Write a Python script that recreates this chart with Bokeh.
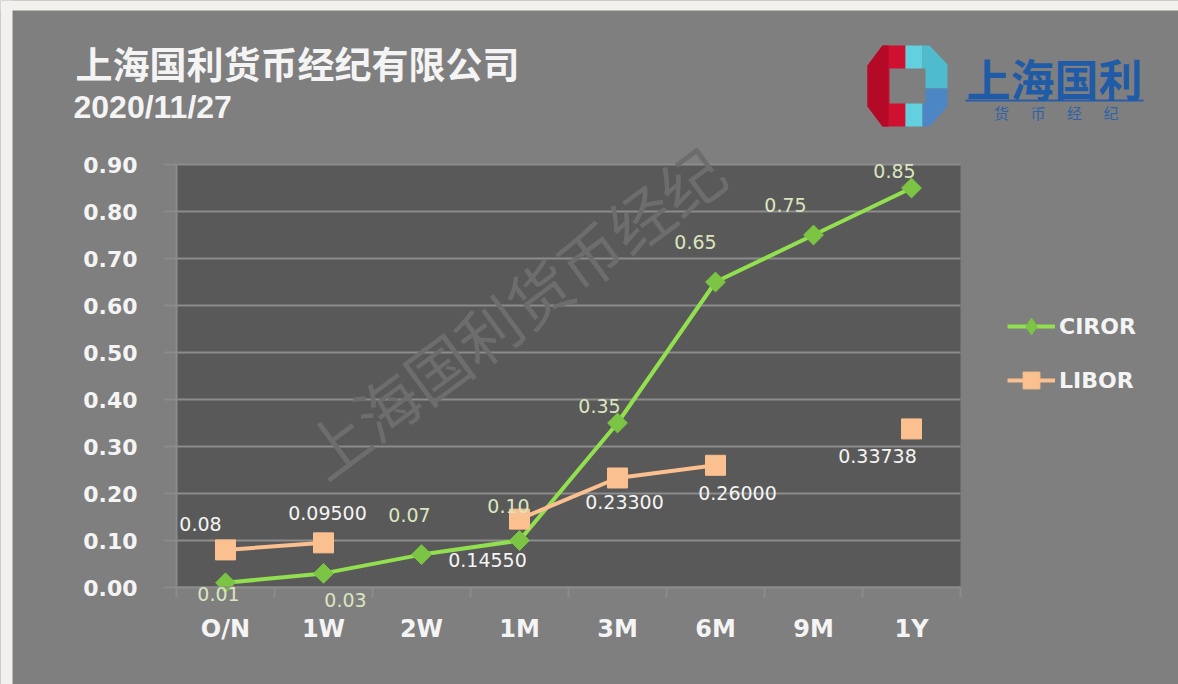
import numpy as np
from bokeh.plotting import figure
from bokeh.models import (Range1d, FixedTicker, NumeralTickFormatter, ColumnDataSource,
                          LabelSet, Label, Legend, LegendItem, BoxAnnotation, PolyAnnotation, Grid)
from bokeh.core.properties import value
from bokeh.embed import file_html
from bokeh.resources import INLINE

# ---------------- data ----------------
categories = ["O/N", "1W", "2W", "1M", "3M", "6M", "9M", "1Y"]
ciror = [0.01, 0.03, 0.07, 0.10, 0.35, 0.65, 0.75, 0.85]
libor = [0.08, 0.095, np.nan, 0.1455, 0.233, 0.26, np.nan, 0.33738]
ciror_labels = ["0.01", "0.03", "0.07", "0.10", "0.35", "0.65", "0.75", "0.85"]
libor_labels = ["0.08", "0.09500", "", "0.14550", "0.23300", "0.26000", "", "0.33738"]
y_ticks = [0.0, 0.1, 0.2, 0.3, 0.4, 0.5, 0.6, 0.7, 0.8, 0.9]
series_names = ["CIROR", "LIBOR"]
title_text = "上海国利货币经纪有限公司"
date_text = "2020/11/27"
watermark_text = "上海国利货币经纪"
logo_text = "上海国利"
logo_sub = "货币经纪"

# ---------------- label placement (style) ----------------
ciror_dx = [-7, 22, -12, -11, -18, -20, -28, -17]
ciror_dy = [-11, -27, 40, 35, 17, 40, 30, 17]
libor_dx = [-25, 4, 0, -32, 7, 22, 0, -34]
libor_dy = [26, 30, 0, -41, -24, -28, 0, -27]

GREEN_LINE = "#92e04f"
GREEN_MARK = "#7cc444"
PEACH = "#fac090"
TXT = "#f4f4f4"
GRID = "#8c8c8c"
PANEL = "#7f7f7f"
PLOT_BG = "#595959"
PAGE = "#f2f1ed"

W, H = 1178, 684
n = len(categories)
xpos = [i + 0.5 for i in range(n)]
y_top = y_ticks[-1]

# plot-area geometry on the page (pixels): x 176..960, y 164..587
PL, PR, PT, PB = 176, 960, 164, 587
ppx = (PR - PL) / n          # pixels per category
ppy = (PB - PT) / y_top      # pixels per unit of rate
x_range = Range1d(-PL / ppx, n + (W - PR) / ppx)
y_range = Range1d(-(H - PB) / ppy, y_top + PT / ppy)

def sx(x):   # page x -> screen units from frame left
    return x
def sy(y):   # page y -> screen units from frame bottom
    return H - y

p = figure(width=W, height=H, x_range=x_range, y_range=y_range,
           output_backend="svg", toolbar_location=None, min_border=0)
p.background_fill_color = PANEL
p.border_fill_color = PANEL
p.outline_line_color = None

# page edge strips and dark plot area
p.add_layout(BoxAnnotation(left=0, right=12, top=H, bottom=0, left_units="screen",
                           right_units="screen", top_units="screen", bottom_units="screen",
                           fill_color=PAGE, fill_alpha=1, line_color=None, level="image"))
p.add_layout(BoxAnnotation(left=0, right=W, top=H, bottom=H - 10, left_units="screen",
                           right_units="screen", top_units="screen", bottom_units="screen",
                           fill_color=PAGE, fill_alpha=1, line_color=None, level="image"))
p.add_layout(BoxAnnotation(left=0, right=n, bottom=0, top=y_top, fill_color=PLOT_BG, fill_alpha=1,
                           line_color=None, level="image"))

# grid
p.xgrid.visible = False
p.ygrid.grid_line_color = GRID
p.ygrid.grid_line_width = 2
p.ygrid.ticker = FixedTicker(ticks=y_ticks)
p.ygrid.bounds = (0, y_top)
if "cross_bounds" in Grid.properties():
    p.ygrid.cross_bounds = (0, n)

# y axis, drawn at x = 0
p.yaxis.fixed_location = 0
p.yaxis.bounds = (0, y_top)
p.yaxis.ticker = FixedTicker(ticks=y_ticks, minor_ticks=[])
p.yaxis.formatter = NumeralTickFormatter(format="0.00")
p.yaxis.major_label_text_font = "DejaVu Sans"
p.yaxis.major_label_text_font_size = "22px"
p.yaxis.major_label_text_font_style = "bold"
p.yaxis.major_label_text_color = TXT
p.yaxis.major_tick_out = 12
p.yaxis.major_tick_in = 0
p.yaxis.major_tick_line_color = GRID
p.yaxis.major_tick_line_width = 2
p.yaxis.minor_tick_line_color = None
p.yaxis.axis_line_color = GRID
p.yaxis.axis_line_width = 2
p.yaxis.major_label_standoff = 27

# x axis, drawn at y = 0
p.xaxis.fixed_location = 0
p.xaxis.bounds = (0, n)
p.xaxis.ticker = FixedTicker(ticks=xpos, minor_ticks=list(range(n + 1)))
p.xaxis.major_label_overrides = {xv: c for xv, c in zip(xpos, categories)}
p.xaxis.major_label_text_font = "DejaVu Sans"
p.xaxis.major_label_text_font_size = "24px"
p.xaxis.major_label_text_font_style = "bold"
p.xaxis.major_label_text_color = TXT
p.xaxis.major_tick_line_color = None
p.xaxis.major_tick_out = 0
p.xaxis.major_tick_in = 0
p.xaxis.minor_tick_out = 10
p.xaxis.minor_tick_in = 0
p.xaxis.minor_tick_line_color = GRID
p.xaxis.minor_tick_line_width = 2
p.xaxis.axis_line_color = GRID
p.xaxis.axis_line_width = 2
p.xaxis.major_label_standoff = 17

# watermark
p.add_layout(Label(x=sx(512), y=sy(310), x_units="screen", y_units="screen",
                   text=watermark_text, angle=0.637, text_align="center", text_baseline="middle",
                   text_font="Noto Sans CJK SC", text_font_size="63px", text_color="#6d6d6d",
                   level="underlay"))

# series
src_c = ColumnDataSource(dict(x=xpos, y=ciror))
src_l = ColumnDataSource(dict(x=xpos, y=libor))
lc = p.line("x", "y", source=src_c, line_color=GREEN_LINE, line_width=4)
# diamond glyph under the rotated squares; used as the legend swatch
mc_leg = p.scatter("x", "y", source=src_c, marker="diamond", size=17,
                   fill_color=GREEN_MARK, line_color=GREEN_MARK)
mc = p.scatter("x", "y", source=src_c, marker="square", size=14, angle=0.785398,
               fill_color=GREEN_MARK, line_color=GREEN_MARK)
ll = p.line("x", "y", source=src_l, line_color=PEACH, line_width=4)
ml = p.scatter("x", "y", source=src_l, marker="square", size=20,
               fill_color=PEACH, line_color=PEACH)

# data labels
lab_c = ColumnDataSource(dict(x=xpos, y=ciror, t=ciror_labels, dx=ciror_dx, dy=ciror_dy))
keep = [i for i in range(n) if not np.isnan(libor[i])]
lab_l = ColumnDataSource(dict(x=[xpos[i] for i in keep], y=[libor[i] for i in keep],
                              t=[libor_labels[i] for i in keep],
                              dx=[libor_dx[i] for i in keep], dy=[libor_dy[i] for i in keep]))
p.add_layout(LabelSet(x="x", y="y", text="t", x_offset="dx", y_offset="dy", source=lab_c,
                      text_align="center", text_baseline="middle", text_font=value("DejaVu Sans"),
                      text_font_size="19px", text_color="#d9e6bf"))
p.add_layout(LabelSet(x="x", y="y", text="t", x_offset="dx", y_offset="dy", source=lab_l,
                      text_align="center", text_baseline="middle", text_font=value("DejaVu Sans"),
                      text_font_size="19px", text_color=TXT))

# legend
legend = Legend(items=[LegendItem(label=series_names[0], renderers=[lc, mc_leg]),
                       LegendItem(label=series_names[1], renderers=[ll, ml])],
                location=(sx(1007), sy(401)), orientation="vertical", padding=0, margin=0,
                spacing=12, glyph_width=48, glyph_height=42, label_height=42, label_standoff=4,
                label_text_font="DejaVu Sans", label_text_font_size="22px",
                label_text_font_style="bold", label_text_color=TXT,
                background_fill_alpha=0, border_line_alpha=0)
p.add_layout(legend)

# title and date
p.add_layout(Label(x=sx(75), y=sy(62), x_units="screen", y_units="screen", text=title_text,
                   text_align="left", text_baseline="middle", text_font="Noto Sans CJK SC",
                   text_font_size="37px", text_font_style="bold", text_color=TXT))
p.add_layout(Label(x=sx(73), y=sy(106), x_units="screen", y_units="screen", text=date_text,
                   text_align="left", text_baseline="middle", text_font="Liberation Sans",
                   text_font_size="32px", text_font_style="bold", text_color=TXT))

# logo
logo_shapes = [
    ([(882, 45), (905, 45), (905, 68), (889, 68), (889, 103), (905, 103), (905, 126),
      (882, 126), (867, 106), (867, 65)], "#cf1030"),
    ([(867, 65), (882, 45), (888, 45), (888, 126), (882, 126), (867, 106)], "#b40a28"),
    ([(905, 45), (922, 45), (922, 68), (905, 68)], "#62d0de"),
    ([(905, 103), (922, 103), (922, 126), (905, 126)], "#62d0de"),
    ([(922, 45), (929, 45), (947, 64), (947, 88), (925, 88), (925, 68), (922, 68)], "#4fbccd"),
    ([(925, 88), (947, 88), (947, 106), (929, 126), (922, 126), (922, 103), (925, 103)], "#4d86c4"),
    ([(965, 99), (1143, 99), (1143, 101), (965, 101)], "#2a5da6"),
]
for pts, col in logo_shapes:
    p.add_layout(PolyAnnotation(xs=[sx(a) for a, b in pts], ys=[sy(b) for a, b in pts],
                                xs_units="screen", ys_units="screen",
                                fill_color=col, fill_alpha=1, line_color=None))
p.add_layout(Label(x=sx(1054), y=sy(77), x_units="screen", y_units="screen", text=logo_text,
                   text_align="center", text_baseline="middle", text_font="Noto Sans CJK SC",
                   text_font_size="44px", text_font_style="bold", text_color="#1f5ba6"))
for i, ch in enumerate(logo_sub):
    p.add_layout(Label(x=sx(1001 + 36.5 * i), y=sy(112), x_units="screen", y_units="screen",
                       text=ch, text_align="center", text_baseline="middle",
                       text_font="Noto Sans CJK SC", text_font_size="15px", text_color="#2f62a8"))

open("out.html", "w").write(file_html(p, INLINE, title="CIROR LIBOR"))
